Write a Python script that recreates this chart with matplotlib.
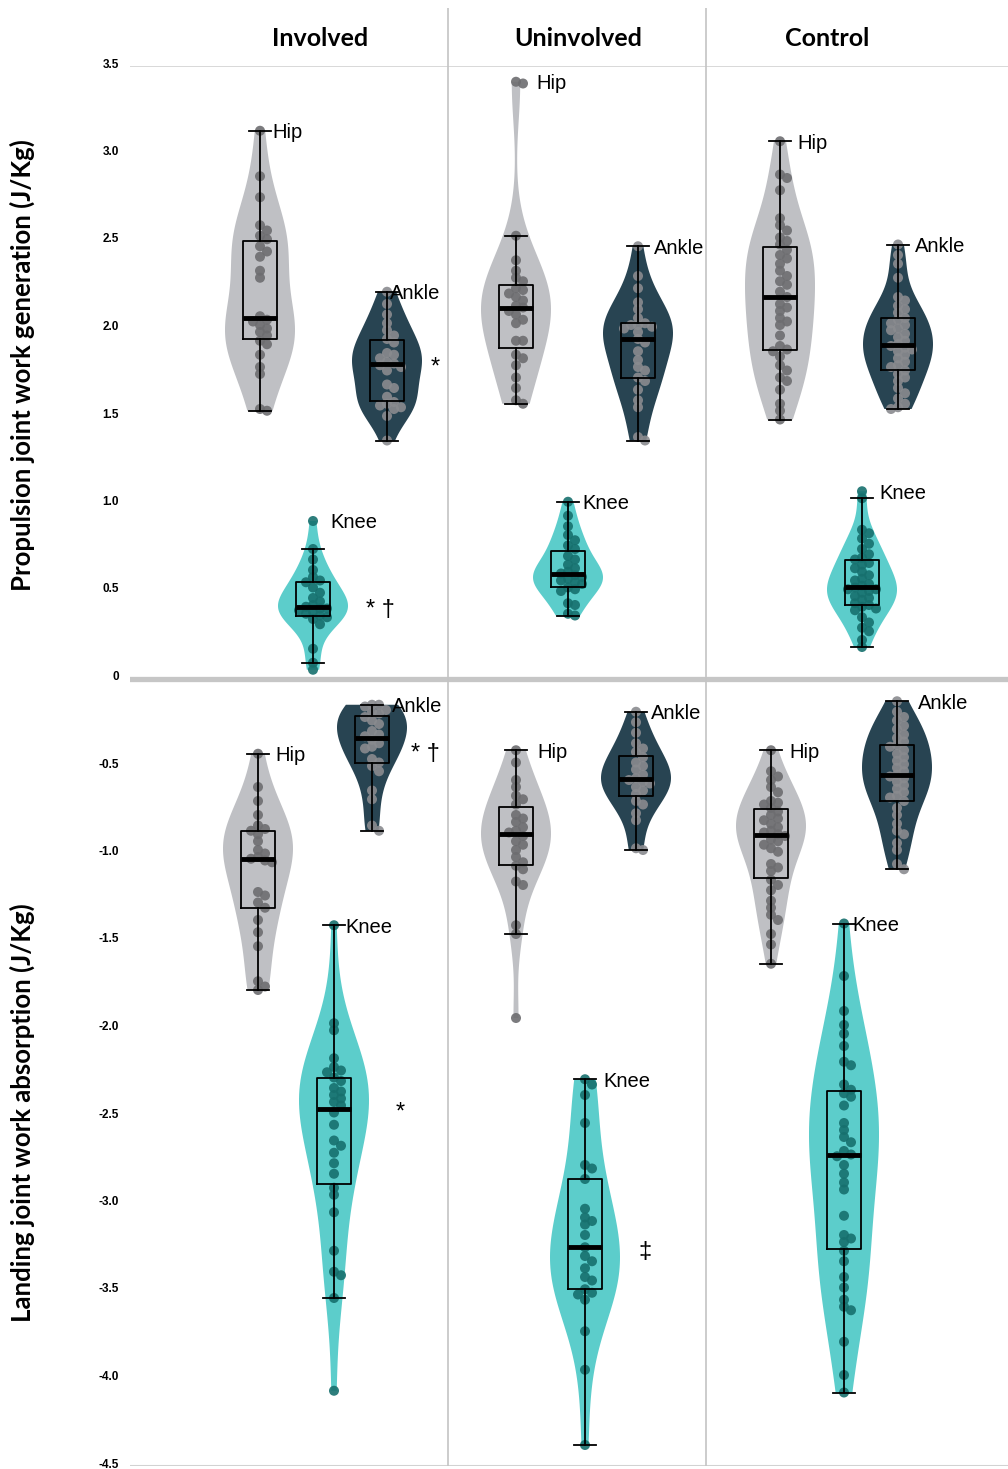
import numpy as np
import matplotlib.pyplot as plt
import matplotlib.transforms as mtransforms

# colours
VIOLIN_C = {"Hip": "#bfc0c4", "Ankle": "#284452", "Knee": "#5ccdcb"}
DOT_C = {"Hip": "#6d6d70", "Ankle": "#8a8b8f", "Knee": "#17706e"}

groups = ["Involved", "Uninvolved", "Control"]
joints = ["Hip", "Ankle", "Knee"]

# Propulsion joint work generation (J/Kg)
prop_inv_hip = [3.13, 2.87, 2.75, 2.59, 2.56, 2.53, 2.51, 2.47, 2.44, 2.41, 2.33, 2.29, 2.07, 2.05,
                2.04, 2.02, 2.00, 1.98, 1.96, 1.93, 1.91, 1.85, 1.78, 1.74, 1.54, 1.53]
prop_inv_ankle = [2.21, 2.14, 2.08, 2.03, 1.99, 1.96, 1.94, 1.92, 1.86, 1.85, 1.83, 1.81, 1.80,
                  1.79, 1.78, 1.76, 1.68, 1.66, 1.61, 1.58, 1.57, 1.56, 1.55, 1.54, 1.50, 1.36]
prop_inv_knee = [0.90, 0.74, 0.68, 0.62, 0.58, 0.56, 0.55, 0.52, 0.49, 0.46, 0.44, 0.42, 0.41,
                 0.40, 0.40, 0.39, 0.38, 0.37, 0.36, 0.35, 0.34, 0.31, 0.17, 0.09, 0.05]
prop_uninv_hip = [3.41, 3.40, 2.53, 2.39, 2.33, 2.29, 2.27, 2.23, 2.22, 2.20, 2.18, 2.16, 2.13, 2.12,
                  2.10, 2.08, 2.05, 2.03, 1.93, 1.93, 1.85, 1.83, 1.79, 1.72, 1.66, 1.59, 1.57]
prop_uninv_ankle = [2.47, 2.30, 2.23, 2.15, 2.11, 2.06, 2.03, 2.02, 2.02, 2.01, 2.00, 1.98, 1.94,
                    1.92, 1.87, 1.82, 1.78, 1.76, 1.72, 1.70, 1.65, 1.59, 1.55, 1.38, 1.36]
prop_uninv_knee = [1.01, 0.93, 0.87, 0.82, 0.79, 0.76, 0.74, 0.70, 0.68, 0.65, 0.63, 0.61, 0.60,
                   0.59, 0.58, 0.57, 0.56, 0.55, 0.54, 0.52, 0.51, 0.50, 0.43, 0.42, 0.37, 0.36]
prop_ctrl_hip = [3.07, 2.88, 2.86, 2.79, 2.63, 2.59, 2.56, 2.52, 2.50, 2.48, 2.45, 2.42, 2.40, 2.37,
                 2.33, 2.30, 2.27, 2.25, 2.21, 2.18, 2.14, 2.12, 2.10, 2.06, 2.04, 2.02, 1.96, 1.90,
                 1.88, 1.87, 1.84, 1.79, 1.76, 1.72, 1.70, 1.65, 1.57, 1.53, 1.48]
prop_ctrl_ankle = [2.48, 2.42, 2.37, 2.29, 2.18, 2.16, 2.13, 2.11, 2.09, 2.06, 2.05, 2.03, 2.02,
                   2.00, 1.99, 1.97, 1.95, 1.93, 1.91, 1.90, 1.89, 1.88, 1.87, 1.85, 1.83, 1.81,
                   1.79, 1.78, 1.76, 1.74, 1.72, 1.70, 1.66, 1.63, 1.60, 1.57, 1.55, 1.54]
prop_ctrl_knee = [1.07, 1.03, 0.85, 0.83, 0.80, 0.77, 0.74, 0.71, 0.69, 0.68, 0.66, 0.65, 0.63,
                  0.61, 0.59, 0.57, 0.56, 0.54, 0.53, 0.52, 0.51, 0.51, 0.50, 0.49, 0.47, 0.46,
                  0.45, 0.43, 0.42, 0.41, 0.40, 0.39, 0.35, 0.32, 0.29, 0.27, 0.22, 0.18]

# Landing joint work absorption (J/Kg)
land_inv_hip = [-0.43, -0.62, -0.70, -0.78, -0.84, -0.86, -0.87, -0.89, -0.93, -0.98, -1.00, -1.02,
                -1.03, -1.04, -1.05, -1.22, -1.24, -1.28, -1.31, -1.38, -1.45, -1.53, -1.73, -1.76,
                -1.78]
land_inv_ankle = [-0.15, -0.15, -0.16, -0.18, -0.19, -0.20, -0.22, -0.24, -0.26, -0.30, -0.32,
                  -0.33, -0.35, -0.37, -0.39, -0.40, -0.46, -0.48, -0.50, -0.53, -0.64, -0.69,
                  -0.84, -0.87]
land_inv_knee = [-1.41, -1.97, -2.01, -2.17, -2.22, -2.24, -2.25, -2.28, -2.30, -2.34, -2.36, -2.38,
                 -2.40, -2.42, -2.44, -2.48, -2.55, -2.64, -2.67, -2.71, -2.77, -2.83, -2.91, -2.95,
                 -3.05, -3.27, -3.39, -3.41, -3.54, -4.07]
land_uninv_hip = [-0.41, -0.48, -0.58, -0.62, -0.67, -0.69, -0.72, -0.78, -0.80, -0.82, -0.85,
                  -0.87, -0.88, -0.90, -0.93, -0.95, -0.98, -1.02, -1.05, -1.07, -1.09, -1.16,
                  -1.18, -1.41, -1.46, -1.94]
land_uninv_ankle = [-0.19, -0.25, -0.31, -0.37, -0.40, -0.42, -0.45, -0.48, -0.50, -0.52, -0.55,
                    -0.57, -0.58, -0.59, -0.60, -0.62, -0.64, -0.66, -0.70, -0.72, -0.77, -0.81,
                    -0.97, -0.98]
land_uninv_knee = [-2.29, -2.32, -2.38, -2.54, -2.78, -2.80, -2.86, -3.03, -3.08, -3.10, -3.12,
                   -3.18, -3.25, -3.30, -3.33, -3.37, -3.42, -3.44, -3.49, -3.51, -3.52, -3.55,
                   -3.73, -3.95, -4.38]
land_ctrl_hip = [-0.41, -0.53, -0.56, -0.58, -0.62, -0.65, -0.70, -0.71, -0.72, -0.74, -0.76,
                 -0.78, -0.80, -0.81, -0.83, -0.85, -0.87, -0.88, -0.89, -0.90, -0.92, -0.93,
                 -0.95, -0.97, -0.99, -1.06, -1.08, -1.10, -1.15, -1.18, -1.21, -1.27, -1.31,
                 -1.35, -1.38, -1.46, -1.52, -1.63]
land_ctrl_ankle = [-0.13, -0.19, -0.22, -0.24, -0.27, -0.29, -0.32, -0.34, -0.36, -0.38, -0.39,
                   -0.41, -0.43, -0.45, -0.47, -0.49, -0.51, -0.53, -0.55, -0.56, -0.57, -0.59,
                   -0.61, -0.63, -0.65, -0.67, -0.68, -0.70, -0.74, -0.78, -0.83, -0.87, -0.89,
                   -0.94, -0.98, -1.06, -1.09]
land_ctrl_knee = [-1.40, -1.70, -1.90, -1.98, -2.03, -2.10, -2.19, -2.21, -2.32, -2.35, -2.37,
                  -2.39, -2.44, -2.54, -2.58, -2.62, -2.65, -2.70, -2.72, -2.73, -2.78, -2.83,
                  -2.88, -2.92, -3.07, -3.18, -3.20, -3.22, -3.27, -3.33, -3.42, -3.48, -3.55,
                  -3.59, -3.61, -3.79, -3.98, -4.08]

prop_data = {"Involved": [prop_inv_hip, prop_inv_ankle, prop_inv_knee],
             "Uninvolved": [prop_uninv_hip, prop_uninv_ankle, prop_uninv_knee],
             "Control": [prop_ctrl_hip, prop_ctrl_ankle, prop_ctrl_knee]}
land_data = {"Involved": [land_inv_hip, land_inv_ankle, land_inv_knee],
             "Uninvolved": [land_uninv_hip, land_uninv_ankle, land_uninv_knee],
             "Control": [land_ctrl_hip, land_ctrl_ankle, land_ctrl_knee]}

# x position of each violin (hip, ankle, knee) -- layout only
prop_pos = {"Involved": [2.60, 3.87, 3.13], "Uninvolved": [5.16, 6.38, 5.68], "Control": [7.80, 8.98, 8.62]}
land_pos = {"Involved": [2.58, 3.72, 3.34], "Uninvolved": [5.16, 6.36, 5.85], "Control": [7.71, 8.97, 8.44]}
# x offset of the joint name from the violin centre
prop_lab_dx = {"Involved": [0.12, 0.03, 0.17], "Uninvolved": [0.20, 0.16, 0.14], "Control": [0.17, 0.17, 0.17]}
land_lab_dx = {"Involved": [0.17, 0.20, 0.11], "Uninvolved": [0.21, 0.15, 0.18], "Control": [0.18, 0.21, 0.08]}

yticks = [3.5, 3.0, 2.5, 2.0, 1.5, 1.0, 0.5, 0, -0.5, -1.0, -1.5, -2.0, -2.5, -3.0, -3.5, -4.0, -4.5]
ytick_labels = ["3.5", "3.0", "2.5", "2.0", "1.5", "1.0", "0.5", "0", "-0.5", "-1.0", "-1.5",
                "-2.0", "-2.5", "-3.0", "-3.5", "-4.0", "-4.5"]

XSCALE = 100.0  # px per x unit
YSCALE = 175.0  # px per y unit


def swarm(vals, dot=9.5, step=3.5, overlap=0.7):
    # simple deterministic beeswarm, returns x offsets in data units
    placed = []
    offs = []
    for v in vals:
        k_list = [0]
        for k in range(1, 6):
            k_list += [k, -k]
        off = 0
        for k in k_list:
            ox = k * step
            ok = True
            for px, pv in placed:
                d = np.hypot(ox - px, (v - pv) * YSCALE)
                if d < dot * overlap:
                    ok = False
                    break
            if ok:
                off = ox
                break
        placed.append((off, v))
        offs.append(off / XSCALE)
    return np.array(offs)


def draw_violin(ax, vals, x, joint):
    vals = np.array(vals)
    parts = ax.violinplot([vals], positions=[x], widths=0.70, showextrema=False)
    for pc in parts["bodies"]:
        pc.set_facecolor(VIOLIN_C[joint])
        pc.set_edgecolor("none")
        pc.set_alpha(1)
        pc.set_zorder(1)
    offs = swarm(vals)
    ax.scatter(x + offs, vals, s=52, color=DOT_C[joint], alpha=0.9, edgecolors="none", zorder=2)
    ax.boxplot([vals], positions=[x], widths=0.34, showfliers=False, manage_ticks=False,
               capwidths=0.22,
               boxprops=dict(color="black", lw=1.3),
               whiskerprops=dict(color="black", lw=1.3),
               capprops=dict(color="black", lw=1.3),
               medianprops=dict(color="black", lw=3.5, solid_capstyle="butt"),
               zorder=3)


fig = plt.figure(figsize=(10.08, 14.69), dpi=100)
ax = fig.add_axes([130 / 1008, 3 / 1469, 878 / 1008, 1400 / 1469])

for g in groups:
    for j, joint in enumerate(joints):
        for data, pos, ldx in [(prop_data, prop_pos, prop_lab_dx), (land_data, land_pos, land_lab_dx)]:
            vals = data[g][j]
            x = pos[g][j]
            draw_violin(ax, vals, x, joint)
            ax.text(x + ldx[g][j], max(vals), joint, ha="left", va="center_baseline",
                    fontsize=14.5, family="Liberation Sans", zorder=5)

# significance marks
sig_font = dict(ha="center", va="center", fontsize=17, family="Liberation Sans")
ax.text(4.35, np.median(prop_inv_ankle) - 0.02, "*", **sig_font)
ax.text(3.80, np.median(prop_inv_knee) - 0.02, "* †", **sig_font)
ax.text(4.25, np.median(land_inv_ankle) - 0.09, "* †", **sig_font)
ax.text(4.00, np.median(land_inv_knee) - 0.02, "*", **sig_font)
ax.text(6.45, np.median(land_uninv_knee) - 0.03, "‡", **sig_font)

# frame lines
ax.axhline(3.5, color="#d2d2d2", lw=1.2, zorder=0)
ax.axhline(0, color="#c6c6c6", lw=3.8, zorder=0)
ax.axhline(-4.5, color="#d2d2d2", lw=1.5, zorder=0)
ax.vlines([4.48, 7.06], -4.5, 3.5 + 58 / YSCALE, color="#c4c4c4", lw=1.2, clip_on=False, zorder=0)

# column headers
header_x = [3.20, 5.78, 8.27]
for g, hx in zip(groups, header_x):
    ax.text(hx, 3.5 + 28 / YSCALE, g, ha="center", va="center", fontsize=18,
            fontweight="bold", family="Lato")

ax.set_xlim(1.30, 10.08)
ax.set_ylim(-4.5, 3.5)
ax.set_xticks([])
ax.set_yticks(yticks)
ax.set_yticklabels(ytick_labels, fontsize=8.5, fontweight="bold", family="Liberation Sans")
ax.tick_params(axis="y", length=0, pad=8)
# lift tick labels a touch, as in the original
shift = mtransforms.ScaledTranslation(0, 3 / 100, fig.dpi_scale_trans)
for lab in ax.get_yticklabels():
    lab.set_transform(lab.get_transform() + shift)
for s in ax.spines.values():
    s.set_visible(False)

fig.text(22 / 1008, 1 - 365 / 1469, "Propulsion joint work generation (J/Kg)", rotation=90,
         ha="center", va="center", fontsize=18.5, fontweight="bold", family="Lato")
fig.text(22 / 1008, 1 - 1113 / 1469, "Landing joint work absorption (J/Kg)", rotation=90,
         ha="center", va="center", fontsize=18.5, fontweight="bold", family="Lato")

plt.savefig("out.png", dpi=100)
